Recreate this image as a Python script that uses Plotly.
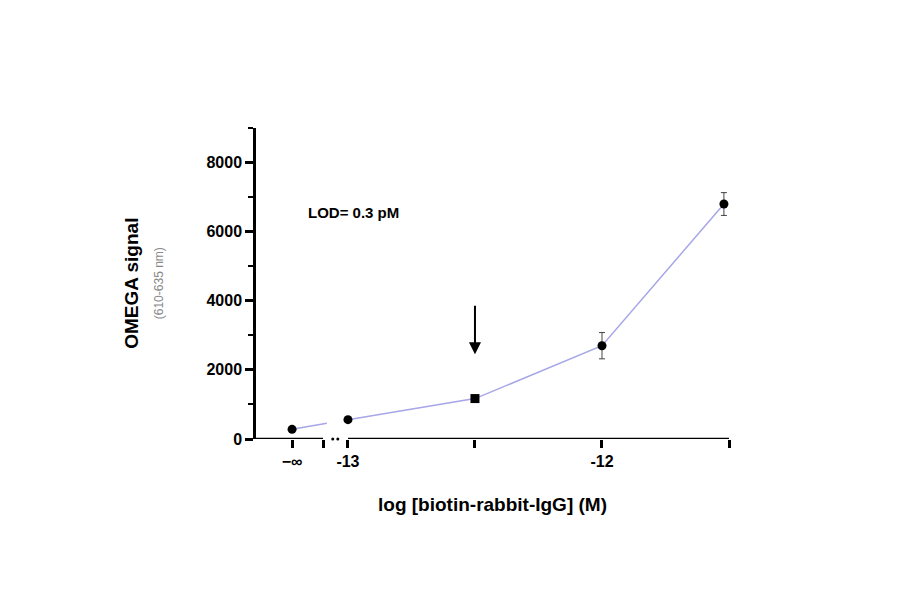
import numpy as np
import plotly.graph_objects as go

# data
log_conc = [-13.22, -13.0, -12.5, -12.0, -11.52]   # first value stands for -inf
signal = [280, 560, 1170, 2700, 6800]
err = [60, 60, 80, 380, 330]
symbols = ["circle", "circle", "square", "circle", "circle"]

x_ticks = [-13.22, -13.098, -13.0, -12.5, -12.0, -11.5]
x_labels = ["<b>\u2212\u221e</b>", "", "<b>-13</b>", "", "<b>-12</b>", ""]
y_ticks = [0, 2000, 4000, 6000, 8000]
y_labels = ["<b>%d</b>" % v for v in y_ticks]

LINE = "#a6a6e8"
BREAK_L, BREAK_R = -13.098, -13.0
X0, X1 = -13.362, -11.5

fig = go.Figure()

# lavender connecting line, broken at the axis break
cut = BREAK_L + 0.015
y_cut = float(np.interp(cut, log_conc[:2], signal[:2]))
fig.add_trace(go.Scatter(x=[log_conc[0], cut], y=[signal[0], y_cut], mode="lines",
                         line=dict(color=LINE, width=1.5), hoverinfo="skip"))
fig.add_trace(go.Scatter(x=log_conc[1:], y=signal[1:], mode="lines",
                         line=dict(color=LINE, width=1.5), hoverinfo="skip"))
fig.add_trace(go.Scatter(
    x=log_conc, y=signal, mode="markers",
    marker=dict(color="black", size=9, symbol=symbols),
    error_y=dict(type="data", array=err, color="#444", thickness=1, width=3),
    cliponaxis=False,
))

# x axis drawn by hand (broken)
for a, b in [(X0, BREAK_L), (BREAK_R, X1)]:
    fig.add_shape(type="line", x0=a, x1=b, y0=0, y1=0, xref="x", yref="y",
                  line=dict(color="black", width=2.5))
fig.add_trace(go.Scatter(x=[-13.06, -13.04], y=[0, 0], mode="markers",
                         marker=dict(color="black", size=3), cliponaxis=False))

fig.add_annotation(x=-12.5, y=2450, ax=0, ay=-50, text="", showarrow=True,
                   arrowhead=2, arrowsize=1.2, arrowwidth=2, arrowcolor="black")
fig.add_annotation(x=-13.165, y=6550, text="<b>LOD= 0.3 pM</b>", showarrow=False,
                   xanchor="left", font=dict(size=15, color="black"))
fig.add_annotation(xref="paper", yref="paper", x=-0.29, y=0.5, textangle=-90,
                   text="<b>OMEGA signal</b><br><span style='font-size:12px;color:#888'>(610-635 nm)</span>",
                   showarrow=False, font=dict(size=19, color="black"))

fig.update_xaxes(range=[X0, X1], tickvals=x_ticks, ticktext=x_labels,
                 ticks="outside", ticklen=8, tickwidth=2.5, tickcolor="black",
                 showline=False, showgrid=False, zeroline=False,
                 tickfont=dict(size=16, color="black", family="Arial"),
                 title=dict(text="<b>log [biotin-rabbit-IgG] (M)</b>",
                            font=dict(size=19, color="black"), standoff=28))
fig.update_yaxes(range=[0, 9000], tickvals=y_ticks, ticktext=y_labels,
                 ticks="outside", ticklen=8,
                 tickwidth=2.5, tickcolor="black", showline=True, linewidth=2.5,
                 linecolor="black", showgrid=False, zeroline=False,
                 minor=dict(dtick=1000, ticks="outside", ticklen=5, tickwidth=2,
                            tickcolor="black"),
                 tickfont=dict(size=16, color="black", family="Arial"))
fig.update_layout(width=900, height=594, showlegend=False,
                  plot_bgcolor="white", paper_bgcolor="white",
                  margin=dict(l=248, r=179, t=120, b=163),
                  font=dict(family="Arial, Liberation Sans", color="black"))
fig.write_html("out.html")
